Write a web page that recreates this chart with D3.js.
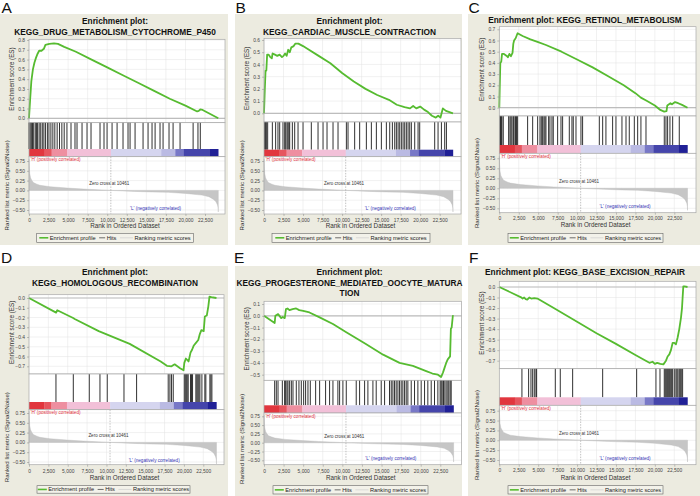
<!DOCTYPE html>
<html><head><meta charset="utf-8">
<script src="https://cdn.jsdelivr.net/npm/d3@7/dist/d3.min.js"></script>
<style>body{margin:0;background:#fff}svg{display:block}</style>
</head><body>
<svg id="chart" width="700" height="496"></svg>
<script>
// ---------------- DATA ----------------
const panelLetters = ["A","B","C","D","E","F"];
const titleLines = [
  ["Enrichment plot:", "KEGG_DRUG_METABOLISM_CYTOCHROME_P450"],
  ["Enrichment plot:", "KEGG_CARDIAC_MUSCLE_CONTRACTION"],
  ["Enrichment plot: KEGG_RETINOL_METABOLISM"],
  ["Enrichment plot:", "KEGG_HOMOLOGOUS_RECOMBINATION"],
  ["Enrichment plot:", "KEGG_PROGESTERONE_MEDIATED_OOCYTE_MATURA", "TION"],
  ["Enrichment plot: KEGG_BASE_EXCISION_REPAIR"]
];
const rankTicks = [0,2500,5000,7500,10000,12500,15000,17500,20000,22500];
const metricTicks = [0.75,0.5,0.25,0,-0.25,-0.5];
const esTicksA = [0,0.1,0.2,0.3,0.4,0.5,0.6,0.7,0.8];
const esTicksB = [0,0.1,0.2,0.3,0.4,0.5,0.6];
const esTicksC = [0,0.1,0.2,0.3,0.4,0.5,0.6,0.7];
const esTicksD = [0,-0.1,-0.2,-0.3,-0.4,-0.5,-0.6,-0.7];
const esTicksE = [0.1,0,-0.1,-0.2,-0.3,-0.4,-0.5];
const esTicksF = [0,-0.1,-0.2,-0.3,-0.4,-0.5,-0.6,-0.7];
const datasetSize = 24200;
const zeroCross = 10461;
const zeroCrossLabel = "Zero cross at 10461";
const posLabel = "'H' (positively correlated)";
const negLabel = "'L' (negatively correlated)";
const axisTitles = {x:"Rank in Ordered Dataset", es:"Enrichment score (ES)", rk:"Ranked list metric (Signal2Noise)"};
const legendLabels = ["Enrichment profile","Hits","Ranking metric scores"];

// running enrichment score: [rank, ES]
const esA = [[0,0],[150,0.2],[300,0.38],[500,0.5],[700,0.57],[900,0.62],[1100,0.66],[1300,0.69],[1600,0.69],[1900,0.71],[2100,0.75],[2600,0.76],[3200,0.765],[3700,0.76],[4500,0.73],[6000,0.68],[8000,0.6],[10000,0.52],[12000,0.44],[14000,0.36],[16000,0.28],[18000,0.2],[20000,0.13],[21500,0.07],[21700,0.075],[21900,0.09],[22200,0.085],[24200,0]];
const esB = [[0,0],[100,0.19],[200,0.35],[300,0.35],[400,0.48],[600,0.48],[800,0.46],[1000,0.45],[1100,0.49],[1400,0.48],[1700,0.47],[2000,0.48],[2300,0.46],[2500,0.47],[2700,0.49],[2900,0.47],[3100,0.52],[3300,0.5],[3500,0.54],[3800,0.55],[4000,0.57],[4400,0.57],[5000,0.55],[5500,0.53],[7000,0.47],[8500,0.41],[10000,0.33],[11500,0.26],[13000,0.2],[14500,0.15],[16000,0.11],[17000,0.07],[18000,0.05],[18700,0.04],[19100,0.06],[19500,0.04],[20000,0.055],[20500,0.03],[21000,0.01],[21500,-0.02],[22000,-0.035],[22300,-0.02],[22600,-0.035],[22900,0.04],[23300,0.02],[24200,0]];
const esC = [[0,0],[50,0.16],[130,0.4],[250,0.41],[350,0.48],[600,0.48],[1000,0.46],[1100,0.45],[1300,0.48],[1500,0.46],[1700,0.49],[1800,0.57],[1900,0.6],[2100,0.62],[2350,0.665],[3000,0.64],[4000,0.61],[5000,0.585],[6000,0.56],[8000,0.5],[10000,0.43],[12000,0.36],[14000,0.28],[16000,0.2],[17500,0.13],[18200,0.09],[19000,0.06],[20000,0.02],[20700,-0.02],[21200,-0.035],[21500,-0.03],[21600,0.02],[22000,0.04],[22200,0.03],[22600,0.05],[23000,0.04],[23500,0.025],[24200,0]];
const esD = [[0,0],[3500,-0.15],[3650,-0.125],[5700,-0.205],[5900,-0.215],[9000,-0.34],[13000,-0.47],[17000,-0.65],[17800,-0.695],[18400,-0.7],[18800,-0.68],[19500,-0.72],[19950,-0.74],[20050,-0.665],[20250,-0.62],[20600,-0.65],[20850,-0.56],[21050,-0.53],[21250,-0.49],[21550,-0.46],[21850,-0.43],[22050,-0.37],[22250,-0.33],[22550,-0.34],[22700,-0.19],[22950,-0.18],[23150,-0.085],[23300,0.015],[23550,0.01],[24200,0]];
const esE = [[0,0],[1360,-0.062],[1450,0],[1800,0.014],[2200,-0.02],[2400,-0.01],[2650,-0.02],[2800,0.057],[3000,0.062],[3250,0.048],[3650,0.057],[4100,0.062],[4500,0.048],[5000,0.042],[5400,0.035],[5800,0.028],[7100,-0.014],[8800,-0.07],[10500,-0.14],[13000,-0.24],[15200,-0.33],[17300,-0.4],[19000,-0.425],[20700,-0.47],[21500,-0.49],[22200,-0.5],[22600,-0.52],[22850,-0.48],[23050,-0.44],[23250,-0.4],[23450,-0.37],[23750,-0.345],[23850,-0.11],[23950,-0.1],[24100,0],[24200,0]];
const esF = [[0,0],[2800,-0.098],[3000,-0.11],[3200,-0.1],[3400,-0.115],[3600,-0.12],[3850,-0.1],[4100,-0.11],[4500,-0.105],[4900,-0.11],[7000,-0.2],[10000,-0.33],[12500,-0.44],[15000,-0.54],[17500,-0.645],[19300,-0.72],[19700,-0.71],[20000,-0.73],[20300,-0.72],[20700,-0.73],[21100,-0.735],[21430,-0.7],[21640,-0.66],[21860,-0.64],[22070,-0.6],[22290,-0.53],[22500,-0.53],[22710,-0.545],[22930,-0.48],[23140,-0.4],[23360,-0.29],[23490,-0.2],[23570,-0.1],[23660,0.006],[23800,0.005],[24200,0]];

// hit positions (ranks)
const hitsA = [0,150,300,450,600,800,950,1100,1300,1500,1700,1900,2100,2350,2550,2800,3050,3300,3600,3900,4200,4500,4850,5370,5880,6140,6780,7420,7930,9080,9590,9980,10620,11260,12020,12660,12920,13560,14580,15220,15730,16120,16750,17140,17900,18420,19310,20980,21600,21900];
const hitsB = [85,210,300,470,1070,1490,1790,2010,2430,2650,2780,2950,3070,3200,3290,3630,3930,4360,5000,6060,6920,7560,8070,8840,9480,10550,10760,11610,12250,13110,13750,14390,15030,15670,16100,16440,16740,16950,17170,17380,17590,17810,18020,18230,18450,18660,18870,19300,19730,19940,21860,22290,22720,23140,23360];
const hitsC = [86,170,260,340,510,1200,1370,1500,1630,1800,1890,2060,2140,2230,2360,3640,4290,4930,5230,5400,5570,5740,5870,6000,6340,6510,6770,6940,7500,7930,8140,9000,9340,9510,9860,10500,10710,12860,13290,13710,14570,15000,15770,16290,16710,17360,17790,18210,18860,21210,21430,21640,21940,22290,23140];
const hitsD = [3480,5720,7780,9160,10100,12260,13890,17970,18190,18400,18620,20040,20170,20300,20420,20550,20850,20980,21110,21540,21670,21800,21930,22060,22320,22700,22830,23350,23480,23610];
const hitsE = [1360,1570,1790,2340,2630,2760,2930,3060,3270,3490,3700,4120,4460,4760,5060,5310,5610,5910,6590,7100,7860,8370,8800,9430,9650,10070,10500,11770,12200,12840,13260,13900,14320,14960,15390,16020,16240,16450,16660,16870,17090,17300,17510,17720,17940,18150,18360,18790,19210,19640,20060,20490,20910,21340,21760,22190,22480,22610,22740,22910,23080,23250,23460,23590,23760,23890];
const hitsF = [2910,3770,4070,4290,4500,4710,4800,7200,7840,9430,13290,17660,20140,20660,21210,21340,21470,21600,21730,21860,21990,22160,22290,22500,22710,22840,22970,23140,23270,23400,23570];

// ranked list metric (shared dataset): [rank, value]
const rankedMetric = [[0,0.8],[40,0.6],[90,0.43],[200,0.32],[350,0.26],[560,0.2],[1000,0.16],[1400,0.13],[2700,0.094],[4900,0.06],[7000,0.034],[10461,0],[13500,-0.026],[15700,-0.04],[17800,-0.05],[20000,-0.077],[22100,-0.12],[23000,-0.16],[23600,-0.23],[23900,-0.29],[24100,-0.37],[24180,-0.45],[24200,-0.55]];

// heat-map bar segments (rank breaks)
const colorBarBreaks = [0,2000,2900,4900,10470,16900,18700,19800,23100,24200];

const esSeries = [esA,esB,esC,esD,esE,esF];
const hitSeries = [hitsA,hitsB,hitsC,hitsD,hitsE,hitsF];
const esTickSets = [esTicksA,esTicksB,esTicksC,esTicksD,esTicksE,esTicksF];

// ---------------- STYLE / LAYOUT ----------------
const colorBarColors = ["#e1363e","#e6565f","#ee8fa0","#f2c0d8","#d5d5ef","#babae3","#7878c7","#4545ab","#202096"];
const FONT = "'Liberation Sans', Arial, Helvetica, sans-serif";
const BG = "#ecebe0";
const GREEN = "#56bb30";

const layout = [
 {ox:0,oy:0,bg:[0,14,228,245],letter:[1.5,13],titleY:[24.3,35],x0:29,x225:205,plotR:225,esTop:39.3,esBot:122.7,esRef:[[0.8,40],[0,118.3]],cbTop:149,cbBot:156.7,rkBot:214,rkRef:[161,210],xlabY:220,xTitleY:227.5,legY:[233.3,242.3],legX:[36.7,193.3]},
 {ox:233,oy:0,bg:[2,14,229,245],letter:[2.5,13],titleY:[24.3,35],x0:31,x225:206.7,plotR:228,esTop:38.5,esBot:122,esRef:[[0.6,40],[0,113.3]],cbTop:149.7,cbBot:156.7,rkBot:214,rkRef:[161,210],xlabY:220,xTitleY:227.5,legY:[233.3,242.3],legX:[39,197]},
 {ox:466,oy:0,bg:[2,14,234,245],letter:[2.5,13],titleY:[23.3],x0:33.3,x225:208.3,plotR:230,esTop:26.7,esBot:116,esRef:[[0.7,29.3],[0,107.7]],cbTop:145,cbBot:153.3,rkBot:212.7,rkRef:[158.3,208.3],xlabY:218.4,xTitleY:226.5,legY:[233.3,242.3],legX:[42,197]},
 {ox:0,oy:248,bg:[0,18,228,248],letter:[1,15],titleY:[26.7,37.7],x0:29,x225:203.3,plotR:224,esTop:46.7,esBot:126,esRef:[[0,50],[-0.7,118.3]],cbTop:154,cbBot:161.7,rkBot:216.7,rkRef:[165,214],xlabY:223.4,xTitleY:231.8,legY:[237.7,245.2],legX:[37,190]},
 {ox:233,oy:248,bg:[2,18,229,248],letter:[1,15],titleY:[26.7,37.7,48.3],x0:31,x225:207.3,plotR:228.5,esTop:53.3,esBot:132.3,esRef:[[0.1,56],[-0.5,126.7]],cbTop:157.3,cbBot:165,rkBot:216.7,rkRef:[168.3,212.3],xlabY:223.4,xTitleY:231.8,legY:[237.7,246],legX:[40,195]},
 {ox:466,oy:248,bg:[2,18,234,248],letter:[3,15],titleY:[26.7],x0:33.3,x225:208.3,plotR:230,esTop:33.3,esBot:120.7,esRef:[[0,39],[-0.7,112.7]],cbTop:149.3,cbBot:157.3,rkBot:216.7,rkRef:[162.7,212],xlabY:222.8,xTitleY:231.8,legY:[237.7,246],legX:[42,197]}
];

// ---------------- DRAW ----------------
const svg = d3.select("#chart").style("font-family", FONT);
const fmtRank = d3.format(",");
const fmtES = d3.format(".1f");
const fmtRk = d3.format(".2f");

layout.forEach((L, i) => {
  const g = svg.append("g").attr("transform", `translate(${L.ox},${L.oy})`);
  g.append("rect").attr("x",L.bg[0]).attr("y",L.bg[1]).attr("width",L.bg[2]-L.bg[0]).attr("height",L.bg[3]-L.bg[1]).attr("fill",BG);
  g.append("text").attr("x",L.letter[0]).attr("y",L.letter[1]).attr("font-size",15.5).attr("fill","#111").text(panelLetters[i]);

  const cx = (L.bg[0]+L.bg[2])/2 + 1;
  titleLines[i].forEach((t,j) => {
    g.append("text").attr("x",cx).attr("y",L.titleY[j]).attr("text-anchor","middle")
      .attr("font-size",8.3).attr("font-weight","bold").attr("fill","#111").text(t);
  });

  const x = d3.scaleLinear().domain([0,22500]).range([L.x0, L.x225]);
  const es = d3.scaleLinear().domain([L.esRef[0][0], L.esRef[1][0]]).range([L.esRef[0][1], L.esRef[1][1]]);
  const rk = d3.scaleLinear().domain([0.75,-0.5]).range(L.rkRef);
  const pL = L.x0, pR = L.plotR, W = pR - pL;
  const rkTop = L.cbBot;

  // ---- ES plot
  g.append("rect").attr("x",pL).attr("y",L.esTop).attr("width",W).attr("height",L.esBot-L.esTop).attr("fill","#fff");
  const esGrid = g.append("g").attr("stroke","#e3e3e3").attr("stroke-width",0.5);
  rankTicks.forEach(t => esGrid.append("line").attr("x1",x(t)).attr("x2",x(t)).attr("y1",L.esTop).attr("y2",L.esBot));
  esTickSets[i].forEach(t => esGrid.append("line").attr("x1",pL).attr("x2",pR).attr("y1",es(t)).attr("y2",es(t)));
  g.append("line").attr("x1",pL).attr("x2",pR).attr("y1",es(0)).attr("y2",es(0)).attr("stroke","#bdbdbd").attr("stroke-width",1.2);
  g.append("path").datum(esSeries[i]).attr("fill","none").attr("stroke",GREEN).attr("stroke-width",1.8)
    .attr("stroke-linejoin","round").attr("d", d3.line().x(d=>x(d[0])).y(d=>es(d[1])));
  g.append("rect").attr("x",pL).attr("y",L.esTop).attr("width",W).attr("height",L.esBot-L.esTop).attr("fill","none").attr("stroke","#a8a8a8").attr("stroke-width",0.7);
  const esAxis = d3.axisLeft(es).tickValues(esTickSets[i]).tickFormat(fmtES).tickSize(2).tickPadding(2);
  const ea = g.append("g").attr("transform",`translate(${pL},0)`).call(esAxis);
  ea.select(".domain").remove();
  ea.selectAll("line").attr("stroke","#888").attr("stroke-width",0.5);
  ea.selectAll("text").attr("font-size",4.9).attr("fill","#444").style("font-family",FONT);

  // ---- hits + color bar
  g.append("rect").attr("x",pL).attr("y",L.esBot).attr("width",W).attr("height",L.cbBot-L.esBot).attr("fill","#fff");
  g.append("g").selectAll("line").data(hitSeries[i]).join("line")
    .attr("x1",d=>x(d)).attr("x2",d=>x(d)).attr("y1",L.esBot).attr("y2",L.cbTop)
    .attr("stroke","#1a1a1a").attr("stroke-width",0.9);
  g.append("g").selectAll("rect").data(colorBarColors).join("rect")
    .attr("x",(d,k)=>x(colorBarBreaks[k])).attr("width",(d,k)=>x(colorBarBreaks[k+1])-x(colorBarBreaks[k])+0.2)
    .attr("y",L.cbTop).attr("height",L.cbBot-L.cbTop).attr("fill",d=>d);
  g.append("rect").attr("x",pL).attr("y",L.esBot).attr("width",W).attr("height",L.cbBot-L.esBot).attr("fill","none").attr("stroke","#a8a8a8").attr("stroke-width",0.7);

  // ---- ranked list plot
  g.append("rect").attr("x",pL).attr("y",rkTop).attr("width",W).attr("height",L.rkBot-rkTop).attr("fill","#fff");
  const rkGrid = g.append("g").attr("stroke","#e3e3e3").attr("stroke-width",0.5);
  rankTicks.forEach(t => rkGrid.append("line").attr("x1",x(t)).attr("x2",x(t)).attr("y1",rkTop).attr("y2",L.rkBot));
  metricTicks.forEach(t => rkGrid.append("line").attr("x1",pL).attr("x2",pR).attr("y1",rk(t)).attr("y2",rk(t)));
  g.append("path").datum(rankedMetric).attr("fill","#c6c6c6").attr("stroke","#bcbcbc").attr("stroke-width",0.4)
    .attr("d", d3.area().x(d=>x(d[0])).y0(rk(0)).y1(d=>rk(Math.max(d[1], rk.invert(L.rkBot)))));
  g.append("line").attr("x1",x(zeroCross)).attr("x2",x(zeroCross)).attr("y1",rkTop).attr("y2",L.rkBot)
    .attr("stroke","#9a9a9a").attr("stroke-width",0.6).attr("stroke-dasharray","1.5,1.2");
  g.append("text").attr("x",x(10250)).attr("y",rk(0.165)+1.5).attr("text-anchor","middle").attr("font-size",4.5).attr("fill","#333").text(zeroCrossLabel);
  g.append("text").attr("x",pL+1.5).attr("y",L.cbBot+4.6).attr("font-size",4.6).attr("fill","#e0303a").text(posLabel);
  g.append("text").attr("x",x(19450)).attr("y",rk(-0.46)+1.6).attr("text-anchor","end").attr("font-size",4.6).attr("fill","#3535b5").text(negLabel);
  g.append("rect").attr("x",pL).attr("y",rkTop).attr("width",W).attr("height",L.rkBot-rkTop).attr("fill","none").attr("stroke","#a8a8a8").attr("stroke-width",0.7);
  const rkAxis = d3.axisLeft(rk).tickValues(metricTicks).tickFormat(fmtRk).tickSize(2).tickPadding(2);
  const ra = g.append("g").attr("transform",`translate(${pL},0)`).call(rkAxis);
  ra.select(".domain").remove();
  ra.selectAll("line").attr("stroke","#888").attr("stroke-width",0.5);
  ra.selectAll("text").attr("font-size",4.9).attr("fill","#444").style("font-family",FONT);

  // x axis
  const xAxis = d3.axisBottom(x).tickValues(rankTicks).tickFormat(fmtRank).tickSize(2).tickPadding(1);
  const xa = g.append("g").attr("transform",`translate(0,${L.rkBot})`).call(xAxis);
  xa.select(".domain").remove();
  xa.selectAll("line").attr("stroke","#888").attr("stroke-width",0.5);
  xa.selectAll("text").attr("font-size",4.9).attr("fill","#444").attr("dy",null).attr("y",L.xlabY - L.rkBot + 1.7).style("font-family",FONT);

  // axis titles
  g.append("text").attr("x",(pL+pR)/2 - 2).attr("y",L.xTitleY).attr("text-anchor","middle").attr("font-size",6.3).attr("fill","#333").text(axisTitles.x);
  g.append("text").attr("transform",`translate(${pL-15},${(L.esTop+L.esBot)/2 - 2}) rotate(-90)`).attr("text-anchor","middle").attr("font-size",6.3).attr("fill","#333").text(axisTitles.es);
  g.append("text").attr("transform",`translate(${pL-20},${(rkTop+L.rkBot)/2}) rotate(-90)`).attr("text-anchor","middle").attr("font-size",6.1).attr("fill","#333").text(axisTitles.rk);

  // legend
  const lx0 = L.legX[0], lx1 = L.legX[1], ly0 = L.legY[0], ly1 = L.legY[1], lym = (ly0+ly1)/2;
  g.append("rect").attr("x",lx0).attr("y",ly0).attr("width",lx1-lx0).attr("height",ly1-ly0).attr("fill","#f3f2ea").attr("stroke","#666").attr("stroke-width",0.6);
  const lg = g.append("g");
  const fs = 5.7;
  const items = [
    {line:GREEN, w:9, sw:1.6}, {text:legendLabels[0]},
    {line:"#333", w:6, sw:0.7}, {text:legendLabels[1]},
    {line:"#cfcfcf", w:13, sw:0.7}, {text:legendLabels[2]}
  ];
  const gapAfterLine = 1.5, gapAfterText = 3.5;
  let total = 0;
  items.forEach((it, k) => {
    if (it.line) { total += it.w + gapAfterLine; }
    else {
      const t = lg.append("text").attr("font-size",fs).attr("fill","#222").attr("y",lym+2).text(it.text);
      it.node = t; it.tw = t.node().getComputedTextLength(); total += it.tw + (k < items.length-1 ? gapAfterText : 0);
    }
  });
  let cur = lx0 + ((lx1-lx0) - total)/2;
  items.forEach((it) => {
    if (it.line) {
      lg.append("line").attr("x1",cur).attr("x2",cur+it.w).attr("y1",lym).attr("y2",lym).attr("stroke",it.line).attr("stroke-width",it.sw);
      cur += it.w + gapAfterLine;
    } else {
      it.node.attr("x",cur);
      cur += it.tw + gapAfterText;
    }
  });
});
</script>
</body></html>
